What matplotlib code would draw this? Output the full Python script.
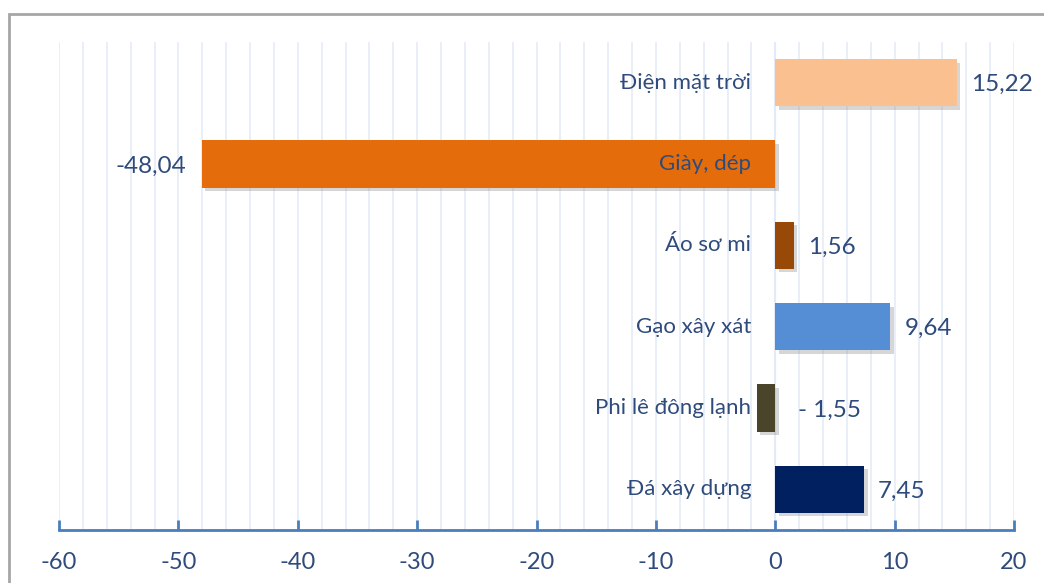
import matplotlib
matplotlib.use("Agg")
import matplotlib.pyplot as plt
import matplotlib.patheffects as pe
from matplotlib.patches import Rectangle
from matplotlib.ticker import MultipleLocator, FixedLocator

plt.rcParams['font.family'] = ['Lato', 'Noto Sans', 'DejaVu Sans']
plt.rcParams['axes.unicode_minus'] = False

categories = ['Điện mặt trời', 'Giày, dép', 'Áo sơ mi', 'Gạo xây xát',
              'Phi lê đông lạnh', 'Đá xây dựng']
values = [15.22, -48.04, 1.56, 9.64, -1.55, 7.45]
value_labels = ['15,22', '-48,04', '1,56', '9,64', '- 1,55', '7,45']
bar_colors = ['#FAC090', '#E46C0A', '#984807', '#558ED5', '#4A452A', '#002060']
xticks = [-60, -50, -40, -30, -20, -10, 0, 10, 20]

text_color = '#2F4B7C'
axis_color = '#4A7EBB'

fig = plt.figure(figsize=(10.44, 5.83), dpi=100)
# outer border
fig.add_artist(Rectangle((9 / 1044, -0.05), 1.1, (583 - 14) / 583 + 0.05,
                         transform=fig.transFigure, fill=False,
                         edgecolor='#A6A6A6', linewidth=2))
ax = fig.add_axes([59 / 1044, 1 - 530 / 583, 955 / 1044, 488 / 583])

ypos = list(range(len(categories)))
shadow = [pe.SimplePatchShadow(offset=(2.5, -2.5), shadow_rgbFace='#8C8C8C', alpha=0.35),
          pe.Normal()]
bars = ax.barh(ypos, values, height=0.58, color=bar_colors, zorder=3)
for b in bars:
    b.set_path_effects(shadow)

ax.set_xlim(-60, 20)
ax.set_ylim(5.5, -0.5)

# grid
ax.xaxis.set_minor_locator(MultipleLocator(2))
ax.grid(which='both', axis='x', color='#E6EEF8', linewidth=1.3, zorder=0)
ax.axvline(0, color='#C6D9F0', linewidth=1.5, zorder=1)

for s in ['top', 'right', 'left']:
    ax.spines[s].set_visible(False)
ax.spines['bottom'].set_color(axis_color)
ax.spines['bottom'].set_linewidth(2)
ax.set_yticks([])
ax.xaxis.set_major_locator(FixedLocator(xticks))
ax.set_xticklabels([str(t) for t in xticks])
ax.tick_params(axis='x', which='major', direction='in', length=7, width=2,
               color=axis_color, labelsize=17, labelcolor=text_color, pad=16)
ax.tick_params(axis='x', which='minor', length=0)

for y, v, cat, lab in zip(ypos, values, categories, value_labels):
    ax.annotate(cat, xy=(0, y), xytext=(-24, 0), textcoords='offset pixels',
                ha='right', va='center', fontsize=16, color=text_color, zorder=5)
    if v >= 0:
        ax.annotate(lab, xy=(v, y), xytext=(14, -2), textcoords='offset pixels',
                    ha='left', va='center', fontsize=17.5, color=text_color)
    elif v < -10:
        ax.annotate(lab, xy=(v, y), xytext=(-16, -2), textcoords='offset pixels',
                    ha='right', va='center', fontsize=17.5, color=text_color)
    else:
        ax.annotate(lab, xy=(0, y), xytext=(23, -2), textcoords='offset pixels',
                    ha='left', va='center', fontsize=17.5, color=text_color)

fig.savefig('out.png', dpi=100)
